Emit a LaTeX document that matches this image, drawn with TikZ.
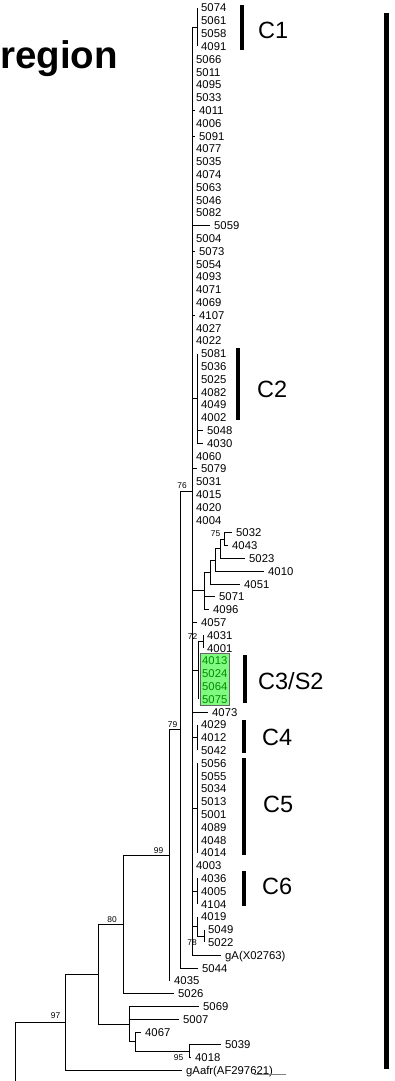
\documentclass[tikz,border=0pt]{standalone}
\usepackage{fontspec}
\setmainfont{Liberation Sans}
\usetikzlibrary{positioning}
\definecolor{boxgreen}{RGB}{128,250,128}
\definecolor{textgreen}{RGB}{0,140,0}

\begin{document}
\begin{tikzpicture}[
    x=1pt, y=-1pt,
    branch/.style={draw, line width=0.9pt},
    leaf/.style={anchor=west, inner xsep=4pt, inner ysep=0pt, text height=8pt, text depth=0pt, font=\fontsize{11.3}{12}\selectfont},
    support/.style={inner sep=0.5pt, font=\fontsize{8.4}{9}\selectfont},
    clusterbar/.style={line width=4pt},
    cluster/.style={anchor=west, inner sep=0pt, font=\fontsize{23.5}{25}\selectfont},
]
  \useasboundingbox (0,0) rectangle (395,1081);

  % title (cut at the left edge)
  \node[anchor=base east, inner sep=0pt, font=\fontsize{38.5}{40}\selectfont\bfseries] (title) at (118,68.5) {region};

  % inner nodes of the tree
  \coordinate (root) at (15,1022.3);
  \coordinate (rootcut) at (15,1090);
  \coordinate (n97) at (65,1022.3);
  \coordinate (n80) at (98,974.2);
  \coordinate (n99) at (123,924.4);
  \coordinate (n169) at (169,855.2);
  \coordinate (n79) at (180,729.6);
  \coordinate (n76) at (192,491.2);
  \coordinate (n129) at (129,1024);
  \coordinate (n135) at (135,1041.6);
  \coordinate (n95) at (189,1051.2);
  \coordinate (c1) at (197,27.2);
  \coordinate (c2) at (197,398.4);
  \coordinate (nQ) at (204,590.8);
  \coordinate (nT) at (210,572);
  \coordinate (nU) at (215,560);
  \coordinate (nV) at (220,548.8);
  \coordinate (n75) at (224,539.2);
  \coordinate (c3) at (198,670.4);
  \coordinate (n72) at (203,641.6);
  \coordinate (c4) at (197,737.6);
  \coordinate (c5) at (197,808);
  \coordinate (c6) at (197,891.2);
  \coordinate (c19) at (197,926.4);
  \coordinate (n78) at (204,936);

  \draw[branch] (root) -- (rootcut);
  \foreach \a/\b in {root/n97, n97/n80, n80/n99, n80/n129, n99/n169, n169/n79,
      n79/n76, n76/c1, n76/c2, n76/nQ, nQ/nT, nT/nU, nU/nV, nV/n75,
      n76/c3, c3/n72, n76/c4, n76/c5, n76/c6, n76/c19, c19/n78,
      n129/n135, n135/n95}
    \draw[branch] (\a) |- (\b);

  % C3/S2 box
  \draw[draw=black!60, fill=boxgreen] (200,653) rectangle (229,705);

  % leaves: parent/label/row/tip
  \foreach \p/\lab/\r/\tip in {
      c1/5074/0/197, c1/5061/1/197, c1/5058/2/197, c1/4091/3/197,
      n76/5066/4/192, n76/5011/5/192, n76/4095/6/192, n76/5033/7/192,
      n76/4011/8/195, n76/4006/9/192, n76/5091/10/195, n76/4077/11/192,
      n76/5035/12/192, n76/4074/13/192, n76/5063/14/192, n76/5046/15/192,
      n76/5082/16/192, n76/5059/17/210, n76/5004/18/192, n76/5073/19/195,
      n76/5054/20/192, n76/4093/21/192, n76/4071/22/192, n76/4069/23/192,
      n76/4107/24/195, n76/4027/25/192, n76/4022/26/192,
      c2/5081/27/197, c2/5036/28/197, c2/5025/29/197, c2/4082/30/197,
      c2/4049/31/197, c2/4002/32/197, c2/5048/33/203, c2/4030/34/203,
      n76/4060/35/192, n76/5079/36/197, n76/5031/37/192, n76/4015/38/192,
      n76/4020/39/192, n76/4004/40/192,
      n75/5032/41/232, n75/4043/42/228, nV/5023/43/245, nU/4010/44/264,
      nT/4051/45/240, nQ/5071/46/215, nQ/4096/47/209,
      n76/4057/48/197, n72/4031/49/203, n72/4001/50/203,
      n76/4073/55/208,
      c4/4029/56/197, c4/4012/57/197, c4/5042/58/197,
      c5/5056/59/197, c5/5055/60/197, c5/5034/61/197, c5/5013/62/197,
      c5/5001/63/197, c5/4089/64/197, c5/4048/65/197, c5/4014/66/197,
      n76/4003/67/192,
      c6/4036/68/197, c6/4005/69/197, c6/4104/70/197,
      c19/4019/71/197, n78/5049/72/204, n78/5022/73/204,
      n79/5044/75/198, n169/4035/76/170, n99/5026/77/174,
      n129/5069/78/199, n129/5007/79/179, n135/4067/80/141,
      n95/5039/81/221, n95/4018/82/191}
  {
    \node[leaf] (l\lab) at (\tip,{8+12.8*\r}) {\lab};
    \draw[branch] (\p) |- (l\lab.west);
  }
  \foreach \lab/\r in {4013/51, 5024/52, 5064/53, 5075/54}
  {
    \node[leaf, text=textgreen] (l\lab) at (198,{8+12.8*\r}) {\lab};
    \draw[branch] (c3) |- (l\lab.west);
  }
  \node[leaf] (lgA) at (221,{8+12.8*74}) {gA(X02763)};
  \draw[branch] (n76) |- (lgA.west);
  \node[leaf] (lgAafr) at (182,{8+12.8*83}) {gAafr(AF297621)};
  \draw[branch] (n97) |- (lgAafr.west);

  % support values
  \node[support, anchor=south east] (b76) at (187.5,489.5) {76};
  \node[support, anchor=south east] (b79) at (178,728) {79};
  \node[support, anchor=south east] (b99) at (164,854) {99};
  \node[support, anchor=south east] (b80) at (117.5,923) {80};
  \node[support, anchor=south east] (b97) at (61,1019.5) {97};
  \node[support, anchor=south east] (b75) at (221,537.5) {75};
  \node[support, anchor=south east] (b72) at (198,640) {72};
  \node[support, anchor=north east] (b78) at (197.5,938.5) {78};
  \node[support, anchor=north east] (b95) at (184,1053.5) {95};

  % scale stub
  \draw[gray, line width=0.9pt] (254,1074.5) -- (286,1074.5);

  % cluster bars and names
  \draw[clusterbar] (242,5) -- (242,50);
  \draw[clusterbar] (237.5,348) -- (237.5,420);
  \draw[clusterbar] (244.5,655) -- (244.5,703);
  \draw[clusterbar] (244,720) -- (244,753);
  \draw[clusterbar] (244,758) -- (244,855);
  \draw[clusterbar] (244,871) -- (244,906);
  \node[cluster] (C1) at (258,30) {C1};
  \node[cluster] (C2) at (257,389) {C2};
  \node[cluster] (C3) at (258,681) {C3/S2};
  \node[cluster] (C4) at (262,737) {C4};
  \node[cluster] (C5) at (263,804) {C5};
  \node[cluster] (C6) at (262,886.5) {C6};

  % bar along the right side
  \draw[line width=5pt] (386,13) -- (386,1069);
\end{tikzpicture}
\end{document}
